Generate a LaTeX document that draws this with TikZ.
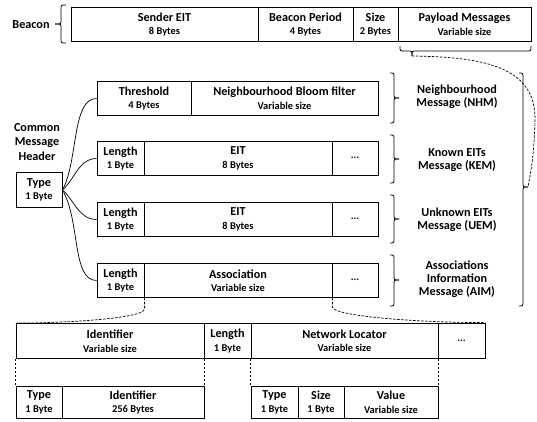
\documentclass[tikz,border=0pt]{standalone}
\usepackage{fontspec}
\setmainfont{Carlito}
\newcommand\titf{\fontsize{12.2}{13.5}\selectfont\bfseries}
\newcommand\subf{\fontsize{10.4}{13.5}\selectfont\bfseries}
\newcommand\labf{\fontsize{12.2}{13}\selectfont\bfseries}
\begin{document}
\begin{tikzpicture}[x=1pt,y=-1pt,
  cell/.style={draw,line width=0.8pt,inner sep=0pt,align=center,font=\titf},
  lab/.style={inner sep=0pt,align=center,font=\labf},
  brk/.style={line width=0.8pt,rounded corners=2pt},
  conn/.style={line width=0.7pt},
  dsh/.style={line width=0.7pt,dash pattern=on 2.5pt off 1.5pt}]
\useasboundingbox (0,0) rectangle (537,422);
\newcommand\fcell[7]{%
  \pgfmathsetmacro\cw{#4-#2}\pgfmathsetmacro\ch{#5-#3}%
  \node[cell,minimum width=\cw pt,minimum height=\ch pt] (#1) at ({(#2+#4)/2},{(#3+#5)/2+0.5}) {#6\\{\subf #7}};}
\newcommand\dcell[5]{%
  \pgfmathsetmacro\cw{#4-#2}\pgfmathsetmacro\ch{#5-#3}%
  \node[cell,minimum width=\cw pt,minimum height=\ch pt,font=\subf] (#1) at ({(#2+#4)/2},{(#3+#5)/2}) {...};}
\newcommand\mybrkR[4]{% x top bot mid
  \draw[brk] (#1-4,#2) -- (#1,#2) -- (#1,#4) -- (#1+5,#4);
  \draw[brk] (#1+5,#4) -- (#1,#4) -- (#1,#3) -- (#1-4,#3);}
% Beacon
\fcell{sender}{71}{7}{258}{41}{Sender EIT}{8 Bytes}
\fcell{period}{258}{7}{353}{41}{Beacon Period}{4 Bytes}
\fcell{bsize}{353}{7}{398}{41}{Size}{2 Bytes}
\fcell{payload}{398}{7}{531}{41}{Payload Messages}{Variable size}
\node[lab] (beacon) at (31,25) {Beacon};
\draw[brk] (66,5) -- (61,5) -- (61,24) -- (55,24);
\draw[brk] (55,24) -- (61,24) -- (61,43) -- (66,43);
% payload brace
\draw[brk] (400,46) -- (400,51) -- (412,51) -- (412,56);
\draw[brk] (412,56) -- (412,51) -- (531,51) -- (531,46);
\coordinate (pnub) at (412,56);
% NHM
\fcell{thr}{97}{81}{191}{115}{Threshold}{4 Bytes}
\fcell{bloom}{191}{81}{378}{115}{Neighbourhood Bloom filter}{Variable size}
% KEM
\fcell{kemL}{97}{141}{144}{175}{Length}{1 Byte}
\fcell{kemE}{144}{141}{332}{175}{EIT}{8 Bytes}
\dcell{kemD}{332}{141}{378}{175}
% UEM
\fcell{uemL}{97}{202}{144}{236}{Length}{1 Byte}
\fcell{uemE}{144}{202}{332}{236}{EIT}{8 Bytes}
\dcell{uemD}{332}{202}{378}{236}
% AIM
\fcell{aimL}{97}{263}{144}{297}{Length}{1 Byte}
\fcell{aimA}{144}{263}{332}{297}{Association}{Variable size}
\dcell{aimD}{332}{263}{378}{297}
% braces and labels
\mybrkR{394}{73}{123}{98}
\mybrkR{394}{135}{183}{159}
\mybrkR{394}{195}{243}{219}
\mybrkR{394}{255}{306}{280}
\mybrkR{523}{73}{306}{187}
\coordinate (bnub) at (528,187);
\node[lab] (nhm) at (457,97) {Neighbourhood\\Message (NHM)};
\node[lab] (kem) at (457,160) {Known EITs\\Message (KEM)};
\node[lab] (uem) at (457,220) {Unknown EITs\\Message (UEM)};
\node[lab] (aim) at (457,279) {Associations\\Information\\Message (AIM)};
% common header
\node[lab,font=\fontsize{12.2}{14.5}\selectfont\bfseries] (cmh) at (37,142) {Common\\Message\\Header};
\fcell{type}{16}{172}{62}{207}{Type}{1 Byte}
\draw[conn] (type.east) .. controls +(16,-29) and +(-25,0) .. (thr.west);
\draw[conn] (type.east) .. controls +(12,-10) and +(-18,0) .. (kemL.west);
\draw[conn] (type.east) .. controls +(12,10) and +(-18,0) .. (uemL.west);
\draw[conn] (type.east) .. controls +(18,30) and +(-25,0) .. (aimL.west);
% dashed payload link
\draw[dsh] (pnub) .. controls (480,57) and (536,65) .. (535,120) .. controls (534,160) and (530,175) .. (bnub);
% bottom rows
\fcell{idv}{16}{323}{204}{358}{Identifier}{Variable size}
\fcell{len2}{204}{323}{251}{358}{Length}{1 Byte}
\fcell{netloc}{251}{323}{438}{358}{Network Locator}{Variable size}
\dcell{bdots}{438}{323}{485}{358}
\fcell{typ2}{16}{386}{62}{418}{Type}{1 Byte}
\fcell{id256}{62}{386}{204}{418}{Identifier}{256 Bytes}
\fcell{typ3}{251}{386}{298}{418}{Type}{1 Byte}
\fcell{size3}{298}{386}{344}{418}{Size}{1 Byte}
\fcell{value}{344}{386}{438}{418}{Value}{Variable size}
\draw[dsh] (idv.south west) -- (typ2.north west);
\draw[dsh] (idv.south east) -- (id256.north east);
\draw[dsh] (netloc.south west) -- (typ3.north west);
\draw[dsh] (netloc.south east) -- (value.north east);
\draw[dsh] (aimL.south east) -- ++(0,11) .. controls +(0,10) and +(45,0) .. (idv.north west);
\draw[dsh] (aimA.south east) -- ++(0,9) .. controls +(0,9) and +(-70,0) .. (bdots.north east);
\end{tikzpicture}
\end{document}
